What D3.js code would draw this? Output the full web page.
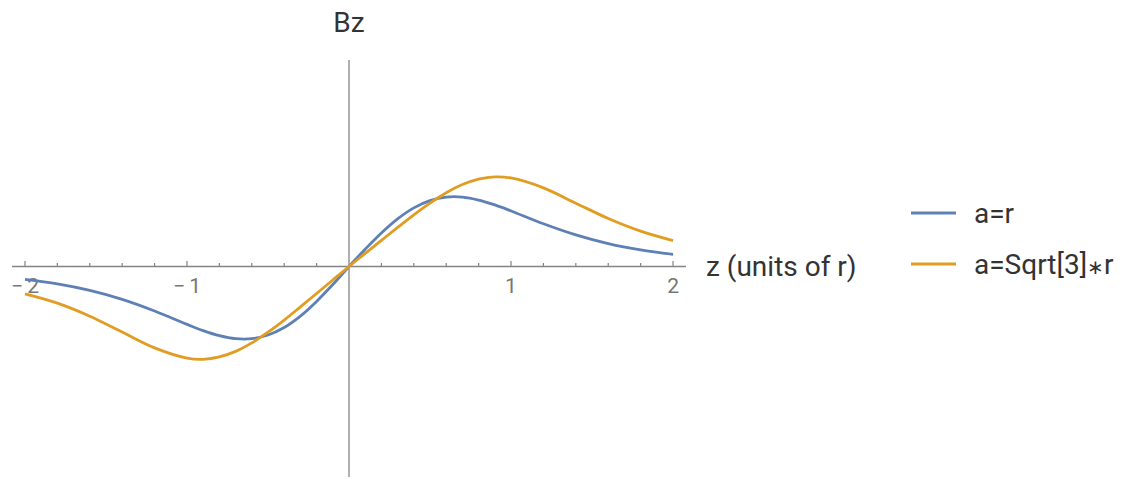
<!DOCTYPE html>
<html>
<head>
<meta charset="utf-8">
<script src="https://cdn.jsdelivr.net/npm/d3@7"></script>
<style>
  html, body { margin: 0; padding: 0; background: #fff; }
  svg { display: block; }
  text { font-family: Roboto, "Liberation Sans", sans-serif; }
</style>
</head>
<body>
<svg id="chart" width="1135" height="479"></svg>
<script>
// Axial field Bz of an opposed coil pair, sampled along z (units of r)
const zValues = [-2, -1.8, -1.6, -1.4, -1.2, -1, -0.9, -0.8, -0.7, -0.6, -0.5, -0.4, -0.3, -0.2, -0.1,
                 0, 0.1, 0.2, 0.3, 0.4, 0.5, 0.6, 0.7, 0.8, 0.9, 1, 1.2, 1.4, 1.6, 1.8, 2];
const bzAEqualsR = [-0.126, -0.170, -0.234, -0.322, -0.436, -0.567, -0.628, -0.678, -0.708, -0.708, -0.672, -0.598, -0.486, -0.342, -0.177,
                    0, 0.170, 0.329, 0.467, 0.575, 0.646, 0.681, 0.681, 0.652, 0.604, 0.545, 0.419, 0.310, 0.225, 0.163, 0.119];
const bzASqrt3R = [-0.268, -0.359, -0.487, -0.643, -0.798, -0.898, -0.910, -0.887, -0.832, -0.749, -0.644, -0.525, -0.396, -0.265, -0.132,
                   0, 0.128, 0.256, 0.383, 0.507, 0.622, 0.724, 0.804, 0.857, 0.879, 0.868, 0.771, 0.621, 0.471, 0.347, 0.254];

const seriesNames = ["a=r", "a=Sqrt[3]\u2217r"];
const seriesColors = ["#5E81B5", "#E19C24"];
const majorTicks = [-2, -1, 1, 2];
const majorTickLabels = ["\u2212\u20092", "\u2212\u20091", "1", "2"];
const minorTicks = d3.range(-20, 21, 2).map(v => v / 10).filter(v => v !== 0 && !majorTicks.includes(v));
const xAxisLabel = "z (units of r)";
const yAxisLabel = "Bz";

const svg = d3.select("#chart");

const x = d3.scaleLinear().domain([-2.08, 2.08]).range([12, 686]);
const y = d3.scaleLinear().domain([-2.064, 2.025]).range([477, 60]);

const axisColor = "#848484";

// horizontal axis
const gx = svg.append("g");
gx.append("line")
  .attr("x1", x.range()[0]).attr("x2", x.range()[1])
  .attr("y1", y(0)).attr("y2", y(0))
  .attr("stroke", axisColor).attr("stroke-width", 1.3);

gx.selectAll("line.minor").data(minorTicks).join("line")
  .attr("class", "minor")
  .attr("x1", d => x(d)).attr("x2", d => x(d))
  .attr("y1", y(0)).attr("y2", y(0) - 3.5)
  .attr("stroke", axisColor).attr("stroke-width", 1.2);

gx.selectAll("line.major").data(majorTicks).join("line")
  .attr("class", "major")
  .attr("x1", d => x(d)).attr("x2", d => x(d))
  .attr("y1", y(0)).attr("y2", y(0) - 5.5)
  .attr("stroke", axisColor).attr("stroke-width", 1.2);

gx.selectAll("text.tick").data(majorTicks).join("text")
  .attr("class", "tick")
  .attr("x", d => x(d))
  .attr("y", y(0) + 26)
  .attr("text-anchor", "middle")
  .attr("font-size", 21)
  .attr("fill", "#777")
  .text((d, i) => majorTickLabels[i]);

// vertical axis
svg.append("line")
  .attr("x1", x(0)).attr("x2", x(0))
  .attr("y1", y.range()[1]).attr("y2", y.range()[0])
  .attr("stroke", axisColor).attr("stroke-width", 1.3);

// axis labels
svg.append("text")
  .attr("x", x(0))
  .attr("y", 32)
  .attr("text-anchor", "middle")
  .attr("font-size", 28)
  .attr("fill", "#333")
  .text(yAxisLabel);

svg.append("text")
  .attr("x", 706)
  .attr("y", y(0))
  .attr("dy", "0.35em")
  .attr("font-size", 28)
  .attr("fill", "#333")
  .text(xAxisLabel);

// curves
const line = d3.line()
  .x((d, i) => x(zValues[i]))
  .y(d => y(d))
  .curve(d3.curveCatmullRom);

[bzAEqualsR, bzASqrt3R].forEach((vals, k) => {
  svg.append("path")
    .datum(vals)
    .attr("d", line)
    .attr("fill", "none")
    .attr("stroke", seriesColors[k])
    .attr("stroke-width", 2.8)
    .attr("stroke-linejoin", "round");
});

// legend
const legend = svg.append("g").attr("transform", "translate(911,213)");
const items = legend.selectAll("g").data(seriesNames).join("g")
  .attr("transform", (d, i) => `translate(0,${i * 51})`);
items.append("line")
  .attr("x1", 0).attr("x2", 45).attr("y1", 0).attr("y2", 0)
  .attr("stroke", (d, i) => seriesColors[i]).attr("stroke-width", 2.8);
const labels = items.append("text")
  .attr("x", 63)
  .attr("y", 0)
  .attr("dy", "0.35em")
  .attr("font-size", 28)
  .attr("fill", "#333");
// the multiplication star is set a little smaller than the surrounding text
labels.each(function (d) {
  const parts = d.split("\u2217");
  const t = d3.select(this);
  parts.forEach((p, j) => {
    if (j > 0) t.append("tspan").attr("font-size", 20).text("\u2217");
    t.append("tspan").text(p);
  });
});
</script>
</body>
</html>
